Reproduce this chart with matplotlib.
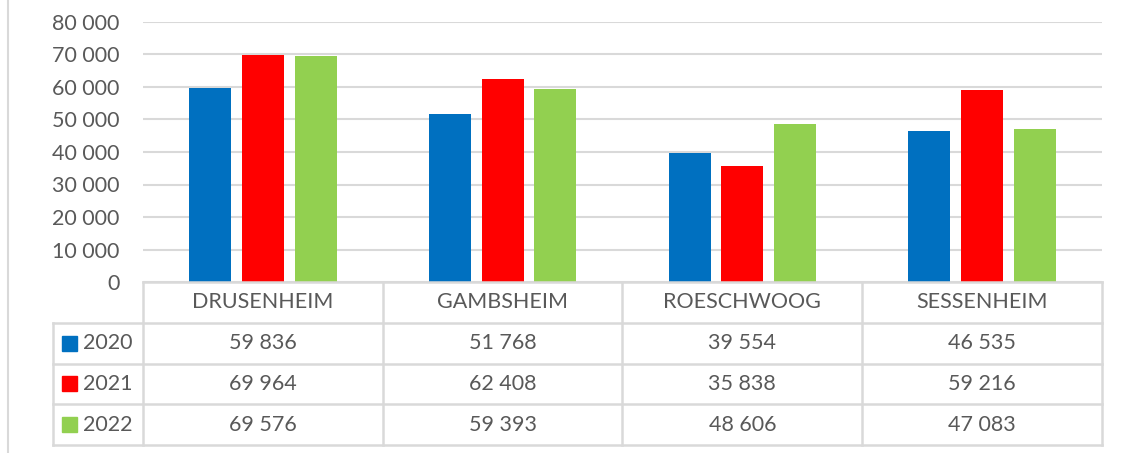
import matplotlib.pyplot as plt
import numpy as np
from matplotlib.lines import Line2D

communes = ["DRUSENHEIM", "GAMBSHEIM", "ROESCHWOOG", "SESSENHEIM"]
annees = ["2020", "2021", "2022"]
v2020 = [59836, 51768, 39554, 46535]
v2021 = [69964, 62408, 35838, 59216]
v2022 = [69576, 59393, 48606, 47083]
couleurs = ["#0070C0", "#FF0000", "#92D050"]

plt.rcParams["font.family"] = ["Lato", "DejaVu Sans"]
gris = "#595959"
ligne = "#D9D9D9"
fs = 15.5

W, H = 1121, 453
fig = plt.figure(figsize=(W / 100, H / 100), dpi=100)


def box(x0, y0, x1, y1):
    return [x0 / W, 1 - y1 / H, (x1 - x0) / W, (y1 - y0) / H]


ax = fig.add_axes(box(143, 22, 1102, 282))
x = np.arange(len(communes)) + 0.5
series = [v2020, v2021, v2022]
larg = 0.175
pas = 0.22
for i, (vals, c) in enumerate(zip(series, couleurs)):
    ax.bar(x + (i - 1) * pas, vals, larg, color=c, zorder=3)
ax.set_xlim(0, 4)
ax.set_ylim(0, 80000)
ax.set_yticks(np.arange(0, 80001, 10000))
ax.set_yticklabels([f"{v:,}".replace(",", " ") for v in range(0, 80001, 10000)])
ax.tick_params(axis="y", length=0, pad=17, labelsize=fs, labelcolor=gris)
ax.set_xticks([])
ax.grid(axis="y", color=ligne, lw=1.5, zorder=0)
for s in ax.spines.values():
    s.set_visible(False)

# tableau de donnees
tb = fig.add_axes(box(53, 282, 1102, 445))
tb.set_xlim(-0.375, 4)
tb.set_ylim(4, 0)
tb.axis("off")
lk = dict(color=ligne, lw=1.8, clip_on=False)
tb.plot([0, 4], [0, 0], **lk)
for k in range(1, 5):
    tb.plot([-0.375, 4], [k, k], **lk)
tb.plot([-0.375, -0.375], [1, 4], **lk)
for j in range(5):
    tb.plot([j, j], [0, 4], **lk)
for j, nom in enumerate(communes):
    tb.text(j + 0.5, 0.5, nom, ha="center", va="center", fontsize=fs, color=gris)
for r, (an, vals, c) in enumerate(zip(annees, series, couleurs)):
    yy = r + 1.5
    tb.add_patch(plt.Rectangle((-0.3375, yy - 0.185), 0.0625, 0.37, color=c))
    tb.text(-0.25, yy, an, ha="left", va="center", fontsize=fs, color=gris)
    for j, v in enumerate(vals):
        tb.text(j + 0.5, yy, f"{v:,}".replace(",", " "), ha="center", va="center",
                fontsize=fs, color=gris)

fig.add_artist(Line2D([7.5 / W, 7.5 / W], [0, 1], color=ligne, lw=1.5))

fig.savefig("out.png", dpi=100)
